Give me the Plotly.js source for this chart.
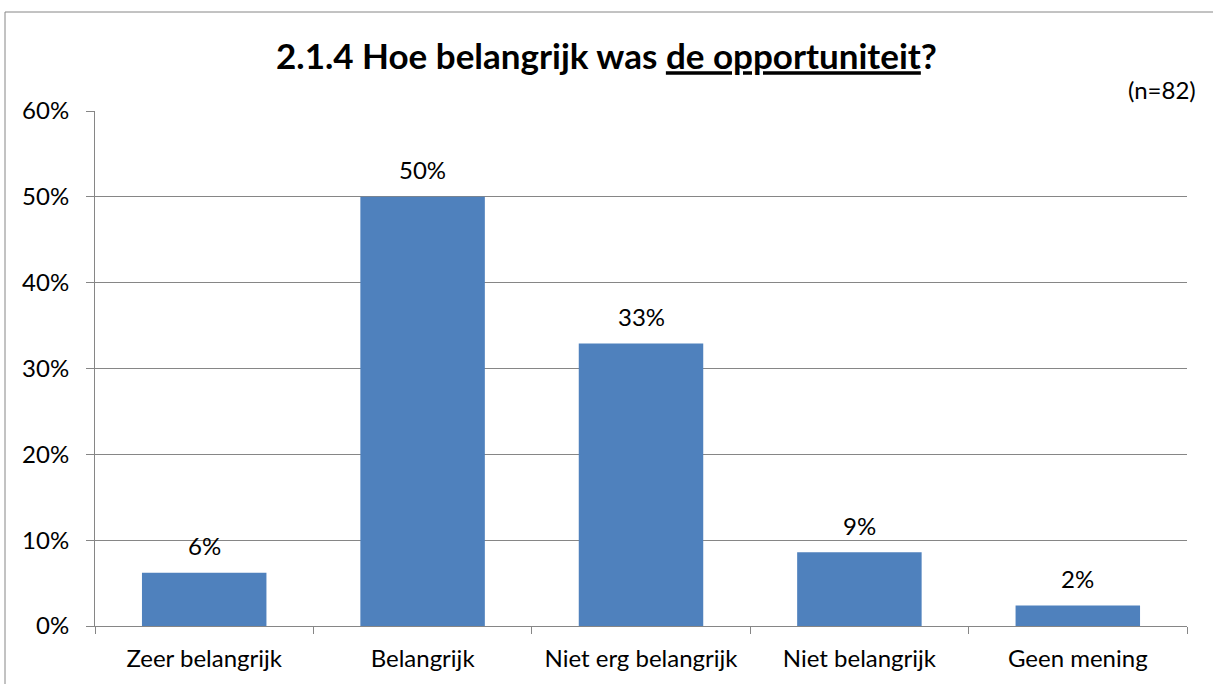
<!DOCTYPE html>
<html>
<head>
<meta charset="utf-8">
<script src="https://cdn.plot.ly/plotly-3.0.1.min.js"></script>
<style>
html,body{margin:0;padding:0;background:#fff;overflow:hidden;}
#chart{width:1213px;height:684px;}
</style>
</head>
<body>
<div id="chart"></div>
<script>
const categories = ["Zeer belangrijk", "Belangrijk", "Niet erg belangrijk", "Niet belangrijk", "Geen mening"];
const values = [0.062, 0.50, 0.329, 0.086, 0.024];
const yTickVals = [0, 0.1, 0.2, 0.3, 0.4, 0.5, 0.6];
const yTickText = ["0%", "10%", "20%", "30%", "40%", "50%", "60%"];
const titleText = "<b>2.1.4 Hoe belangrijk was <u>de opportuniteit</u>?</b>";
const noteText = "(n=82)";

const font = "Lato, 'Open Sans', sans-serif";
const gray = "#868686";
const fs = 24;

const trace = {
  type: "bar",
  x: categories,
  y: values,
  marker: {color: "#4F81BD"},
  width: 0.57,
  hoverinfo: "x+y"
};

const labelAnnotations = categories.map((c, i) => ({
  x: c, y: values[i],
  xref: "x", yref: "y",
  text: Math.round(values[i] * 100) + "%",
  showarrow: false,
  yanchor: "middle",
  yshift: 27,
  font: {family: font, size: fs, color: "#000"}
}));

const layout = {
  width: 1213,
  height: 684,
  margin: {l: 95, r: 26, t: 111, b: 58},
  paper_bgcolor: "#fff",
  plot_bgcolor: "#fff",
  font: {family: font, size: fs, color: "#000"},
  showlegend: false,
  title: {
    text: titleText,
    font: {family: font, size: 35, color: "#000"},
    x: 0.5, xanchor: "center",
    y: 1 - 57/684, yanchor: "middle",
    xref: "container", yref: "container"
  },
  xaxis: {
    type: "category",
    showline: true, linecolor: gray, linewidth: 1,
    ticks: "outside", tickson: "boundaries", ticklen: 7, tickcolor: gray,
    tickfont: {family: font, size: fs, color: "#000"},
    ticklabelstandoff: 11,
    showgrid: false, zeroline: false,
    fixedrange: true
  },
  yaxis: {
    range: [0, 0.6],
    tickvals: yTickVals,
    ticktext: yTickText,
    showline: true, linecolor: gray, linewidth: 1,
    ticks: "outside", ticklen: 8, tickcolor: gray,
    tickfont: {family: font, size: fs, color: "#000"},
    ticklabelstandoff: 12,
    showgrid: true, gridcolor: gray, gridwidth: 1,
    zeroline: false,
    fixedrange: true
  },
  annotations: labelAnnotations.concat([{
    text: noteText,
    xref: "paper", yref: "paper",
    x: (1198 - 95) / 1092, xanchor: "right",
    y: (626 - 90) / 515, yanchor: "middle",
    showarrow: false,
    font: {family: font, size: fs, color: "#000"}
  }]),
  shapes: [{
    type: "rect",
    xref: "paper", yref: "paper",
    x0: (5 - 95) / 1092, x1: 1.2,
    y0: -0.3, y1: (626 - 12) / 515,
    line: {color: gray, width: 1},
    fillcolor: "rgba(0,0,0,0)",
    layer: "below"
  }]
};

Plotly.newPlot("chart", [trace], layout, {displayModeBar: false, staticPlot: true});
</script>
</body>
</html>
